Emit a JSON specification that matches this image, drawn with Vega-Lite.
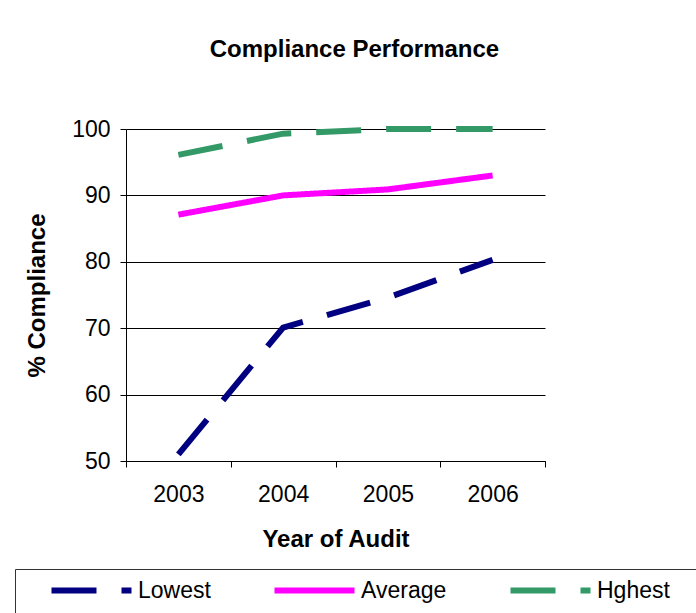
{
  "$schema": "https://vega.github.io/schema/vega-lite/v6.json",
  "width": 419,
  "height": 332,
  "autosize": {"type": "none"},
  "padding": {"left": 126, "top": 129, "right": 151, "bottom": 152},
  "background": "white",
  "title": {"text": "Compliance Performance", "fontSize": 24, "font": "Liberation Sans", "fontWeight": "bold", "color": "#000", "anchor": "middle", "dx": 19, "offset": 55},
  "data": {"values": [
    {"year": "2003", "series": "Lowest", "value": 51},
    {"year": "2004", "series": "Lowest", "value": 70.1},
    {"year": "2005", "series": "Lowest", "value": 74.6},
    {"year": "2006", "series": "Lowest", "value": 80.3},
    {"year": "2003", "series": "Average", "value": 87.1},
    {"year": "2004", "series": "Average", "value": 90},
    {"year": "2005", "series": "Average", "value": 90.9},
    {"year": "2006", "series": "Average", "value": 93},
    {"year": "2003", "series": "Hghest", "value": 96.1},
    {"year": "2004", "series": "Hghest", "value": 99.3},
    {"year": "2005", "series": "Hghest", "value": 100},
    {"year": "2006", "series": "Hghest", "value": 100}
  ]},
  "mark": {"type": "line", "strokeWidth": 6, "strokeCap": "butt", "strokeJoin": "miter"},
  "encoding": {
    "x": {"field": "year", "type": "ordinal", "scale": {"type": "band", "paddingInner": 0, "paddingOuter": 0},
      "axis": {"labelAngle": 0, "tickBand": "extent", "grid": false, "tickSize": 6, "labelPadding": 16, "title": "Year of Audit", "titlePadding": 21}},
    "y": {"field": "value", "type": "quantitative", "scale": {"domain": [50, 100], "nice": false, "zero": false},
      "axis": {"values": [50, 60, 70, 80, 90, 100], "grid": true, "tickSize": 6, "labelPadding": 10, "title": "% Compliance", "titlePadding": 22}},
    "color": {"field": "series", "type": "nominal", "sort": ["Lowest", "Average", "Hghest"],
      "scale": {"domain": ["Lowest", "Average", "Hghest"], "range": ["#000080", "#FF00FF", "#339966"]},
      "legend": {"title": " ", "labelExpr": "datum.label == 'Hghest' ? 'Hghest\u00a0\u00a0\u00a0\u00a0\u00a0\u00a0\u00a0\u00a0\u00a0\u00a0\u200b' : datum.label"}},
    "strokeDash": {"field": "series", "type": "nominal", "sort": ["Lowest", "Average", "Hghest"],
      "scale": {"domain": ["Lowest", "Average", "Hghest"], "range": [[45, 25], [1, 0], [45, 25]]},
      "legend": {"title": " ", "labelExpr": "datum.label == 'Hghest' ? 'Hghest\u00a0\u00a0\u00a0\u00a0\u00a0\u00a0\u00a0\u00a0\u00a0\u00a0\u200b' : datum.label"}}
  },
  "config": {
    "view": {"stroke": null},
    "axis": {"labelFont": "Liberation Sans", "labelFontSize": 23, "labelColor": "#000", "titleFont": "Liberation Sans", "titleFontSize": 24, "titleFontWeight": "bold", "titleColor": "#000", "domainColor": "#000", "tickColor": "#000", "gridColor": "#000", "gridWidth": 1, "domainWidth": 1},
    "legend": {"orient": "none", "legendX": -111, "legendY": 440, "direction": "horizontal", "gridAlign": "none", "columnPadding": 51,
      "symbolType": "M-10,0H10", "symbolSize": 64, "symbolStrokeWidth": 6, "labelFont": "Liberation Sans", "labelFontSize": 23, "labelColor": "#000", "labelOffset": 35, "labelLimit": 400,
      "padding": 10, "strokeColor": "#333", "titleOrient": "left", "titleFontSize": 23, "titlePadding": 55}
  }
}
